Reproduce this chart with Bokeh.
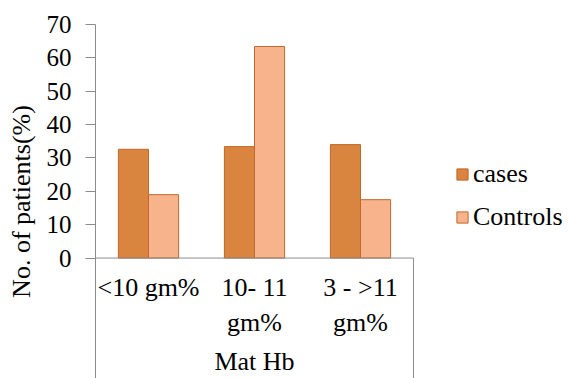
import numpy as np
from bokeh.plotting import figure
from bokeh.models import (Range1d, FixedTicker, Legend, LegendItem, ColumnDataSource)
from bokeh.core.properties import value
from bokeh.embed import file_html
from bokeh.resources import INLINE

categories = ["<10 gm%", "10- 11 gm%", "3 - >11 gm%"]
category_labels = ["<10 gm%", "10- 11\ngm%", "3 - >11\ngm%"]
cases = [32.6, 33.4, 34.0]
controls = [19.0, 63.4, 17.5]
series_names = ["cases", "Controls"]
group_label = "Mat Hb"
y_ticks = [0, 10, 20, 30, 40, 50, 60, 70]
y_title = "No. of patients(%)"

FONT = "'Liberation Serif', 'Times New Roman', serif"
AX = "#8c8c8c"
CASE_FILL = "#d9843f"
CTRL_FILL = "#f7b48c"
EDGE = "#c0692a"

n = len(categories)
pos = np.arange(n) + 0.5          # category centres on the axis scale
bw = 0.284                         # bar width (fraction of a category)
src = ColumnDataSource(dict(cat=categories, label=category_labels, x=pos,
                            x_cases=pos - bw / 2, x_ctrl=pos + bw / 2,
                            cases=cases, controls=controls))

# plot area spans the category axis (first 318 px) plus the legend area
x_end = n * 473 / 318
p = figure(width=568, height=378, output_backend="svg", toolbar_location=None,
           x_range=Range1d(0, x_end), y_range=Range1d(-36.1, 70),
           x_axis_location=None,
           min_border_left=95, min_border_right=0, min_border_top=24,
           min_border_bottom=0)
p.outline_line_color = None
p.grid.visible = False
p.background_fill_color = "white"

r1 = p.vbar(x="x_cases", top="cases", bottom=0, width=bw, source=src,
            fill_color=CASE_FILL, line_color=EDGE, line_width=1)
r2 = p.vbar(x="x_ctrl", top="controls", bottom=0, width=bw, source=src,
            fill_color=CTRL_FILL, line_color=EDGE, line_width=1)

# category axis baseline and right group border
p.segment(x0=[0], y0=[0], x1=[n], y1=[0], line_color=AX, line_width=1)
p.segment(x0=[n], y0=[0], x1=[n], y1=[p.y_range.start], line_color=AX, line_width=1)

# category labels
p.text(x="x", y=0, text="label", source=src, y_offset=15,
       text_font=value(FONT), text_font_size="26px", text_color="black",
       text_align="center", text_baseline="top", text_line_height=1.2)
p.text(x=[n / 2], y=[p.y_range.start], text=[group_label], y_offset=-3,
       text_font=value(FONT), text_font_size="26px", text_color="black",
       text_align="center", text_baseline="bottom")

ya = p.yaxis[0]
ya.ticker = FixedTicker(ticks=y_ticks)
ya.minor_tick_line_color = None
ya.major_tick_out = 10
ya.major_tick_in = 0
ya.major_tick_line_color = AX
ya.axis_line_color = AX
ya.major_label_standoff = 14
ya.major_label_text_font = FONT
ya.major_label_text_font_size = "25px"
ya.major_label_text_color = "black"
ya.axis_label = y_title
ya.axis_label_text_font = FONT
ya.axis_label_text_font_size = "26px"
ya.axis_label_text_font_style = "normal"
ya.axis_label_text_color = "black"
ya.axis_label_standoff = 8

legend = Legend(items=[LegendItem(label=series_names[0], renderers=[r1]),
                       LegendItem(label=series_names[1], renderers=[r2])],
                location=(360, 146), orientation="vertical",
                glyph_width=14, glyph_height=14, label_standoff=4, spacing=13,
                padding=0, margin=0, border_line_color=None,
                background_fill_alpha=0,
                label_text_font=FONT, label_text_font_size="26px",
                label_text_color="black")
p.add_layout(legend, "center")

open("out.html", "w").write(file_html(p, INLINE))
